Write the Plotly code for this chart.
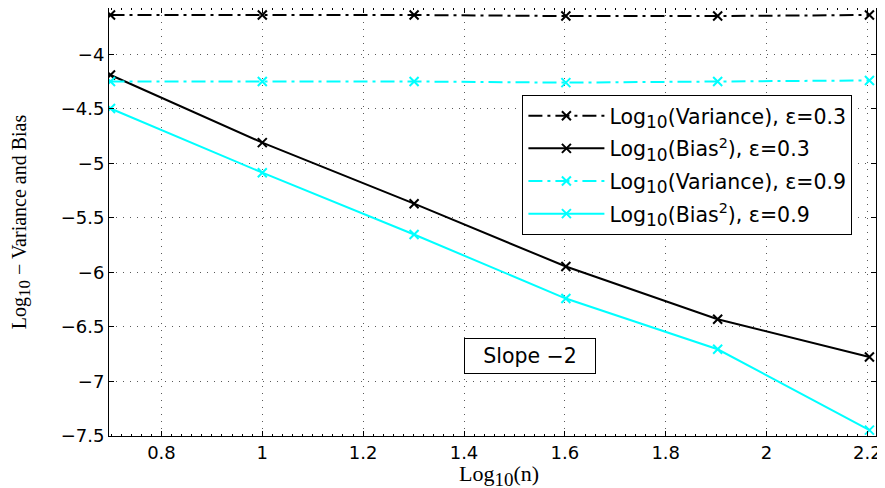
import plotly.graph_objects as go

# Data
log_n = [0.699, 1.0, 1.301, 1.602, 1.903, 2.204]
var_eps03 = [-3.64, -3.64, -3.64, -3.65, -3.65, -3.64]
bias_eps03 = [-4.19, -4.81, -5.37, -5.946, -6.43, -6.776]
var_eps09 = [-4.25, -4.25, -4.25, -4.26, -4.25, -4.24]
bias_eps09 = [-4.497, -5.086, -5.653, -6.24, -6.705, -7.446]

SUB = '<sub><span style="font-size:%dpx">10</span></sub>'
series_names = [
    "Log" + SUB % 17 + "(Variance), ε=0.3",
    "Log" + SUB % 17 + "(Bias<sup>2</sup>), ε=0.3",
    "Log" + SUB % 17 + "(Variance), ε=0.9",
    "Log" + SUB % 17 + "(Bias<sup>2</sup>), ε=0.9",
]
series_values = [var_eps03, bias_eps03, var_eps09, bias_eps09]
series_colors = ["#000000", "#000000", "#00FFFF", "#00FFFF"]
series_dash = ["14px,5px,3px,5px", "solid", "14px,5px,3px,5px", "solid"]

x_ticks = [0.8, 1.0, 1.2, 1.4, 1.6, 1.8, 2.0, 2.2]
y_ticks = [-7.5, -7, -6.5, -6, -5.5, -5, -4.5, -4]

fig = go.Figure()
for i, (name, vals, col, dash) in enumerate(zip(series_names, series_values, series_colors, series_dash)):
    fig.add_trace(go.Scatter(
        x=log_n, y=vals, name=name, mode="lines+markers", legendgroup="g%d" % i,
        line=dict(color=col, width=2, dash=dash),
        marker=dict(symbol="x-thin", size=9, line=dict(color=col, width=2), color=col),
    ))

sans = "DejaVu Sans, Arial, sans-serif"
serif = "Liberation Serif, Times New Roman, serif"
tick_font = dict(family=sans, size=18, color="black")

# The page body adds an 8px margin, so the figure is sized to fit the window.
fig.update_layout(
    width=877, height=480,
    margin=dict(l=101, r=9, t=0, b=52),
    paper_bgcolor="white", plot_bgcolor="white",
    showlegend=True,
    legend=dict(
        x=0.539, y=0.797, xanchor="left", yanchor="top",
        bgcolor="white", bordercolor="black", borderwidth=1,
        font=dict(family=sans, size=20.5, color="black"),
        tracegroupgap=3, itemwidth=76,
    ),
    xaxis=dict(
        range=[0.696, 2.217], tickvals=x_ticks,
        ticktext=[("%g" % v) for v in x_ticks],
        showline=True, linecolor="black", linewidth=1, mirror="ticks",
        ticks="inside", ticklen=5, tickcolor="black",
        showgrid=True, gridcolor="rgba(0,0,0,0.65)", gridwidth=1, griddash="1px,6px",
        zeroline=False, tickfont=tick_font, automargin=False,
        minor=dict(ticks="inside", ticklen=2, dtick=0.02, tickcolor="black", showgrid=False),
    ),
    yaxis=dict(
        range=[-7.5, -3.576], tickvals=y_ticks,
        ticktext=[("%g" % v).replace("-", "\u2212") for v in y_ticks],
        showline=True, linecolor="black", linewidth=1, mirror="ticks",
        ticks="inside", ticklen=5, tickcolor="black",
        showgrid=True, gridcolor="rgba(0,0,0,0.65)", gridwidth=1, griddash="1px,6px",
        zeroline=False, tickfont=tick_font, automargin=False,
        title=dict(text="Log" + SUB % 17 + " \u2212 Variance and Bias", font=dict(family=serif, size=20, color="black"), standoff=32),
    ),
    annotations=[
        dict(
            x=1.53, y=-6.768, xref="x", yref="y", text="Slope \u22122", showarrow=False,
            font=dict(family=sans, size=20.5, color="black"),
            bordercolor="black", borderwidth=1, bgcolor="white", borderpad=4,
            width=122, height=26,
        ),
        dict(
            x=0.508, y=-0.1215, xref="paper", yref="paper", xanchor="center", yanchor="bottom",
            text="Log" + SUB % 19 + "(n)", showarrow=False, borderpad=0, yshift=-3,
            font=dict(family=serif, size=22, color="black"),
        ),
    ],
)

fig.write_html("out.html")
